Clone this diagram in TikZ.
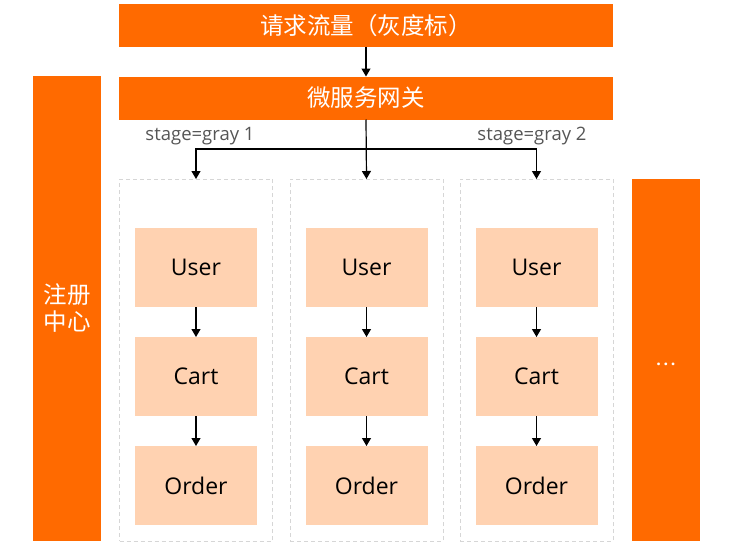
\documentclass[tikz,border=0pt]{standalone}
\usepackage{fontspec}
\setmainfont{Open Sans}
\newfontfamily\cjk{Noto Sans CJK SC}
\usetikzlibrary{positioning,arrows.meta}
\definecolor{aliorange}{HTML}{FF6A00}
\definecolor{peach}{HTML}{FFD2B1}
\definecolor{dashgray}{HTML}{D6D6D6}
\definecolor{labelgray}{HTML}{555555}
\tikzstyle{bar}=[fill=aliorange, text=white, inner sep=0pt, outer sep=0pt,
    minimum width=494pt, minimum height=43pt, font=\cjk\fontsize{23.5}{27}\selectfont]
\tikzstyle{column}=[bar, minimum width=68pt, align=center]
\tikzstyle{group}=[draw=dashgray, dash pattern=on 4pt off 3pt, line width=0.9pt,
    minimum width=153pt, minimum height=362pt, inner sep=0pt, outer sep=0pt]
\tikzstyle{svc}=[fill=peach, minimum width=122pt, minimum height=79pt, inner sep=0pt,
    outer sep=0pt, font=\fontsize{23}{26}\selectfont]
\tikzstyle{stage}=[text=labelgray, font=\fontsize{18.5}{20}\selectfont]
\tikzstyle{flow}=[-{Triangle[length=8pt,width=9pt]}, line width=1.2pt]

\begin{document}
\begin{tikzpicture}[x=1pt, y=-1pt]
	\useasboundingbox (0,0) rectangle (733,543);
	% Define the nodes in the picture
	\node (traffic) [bar] at (366,25.5) {请求流量（灰度标）};
	\node (gateway) [bar] at (366,98) {微服务网关};
	\node (registry) [column, minimum height=465pt] at (67,308.5) {注册\\中心};
	\node (more) [column, minimum height=362pt, font=\bfseries\fontsize{16}{20}\selectfont] at (666,360) {\raisebox{-5pt}[0pt][0pt]{.\,.\,.}};

	\node (grp1) [group] at (196,360) {};
	\node (grp2) [group] at (366.5,360) {};
	\node (grp3) [group] at (536.5,360) {};

	\node (user1) [svc, below=49pt of grp1.north] {User};
	\node (cart1) [svc, below=30pt of user1] {Cart};
	\node (order1) [svc, below=30pt of cart1] {Order};
	\node (user2) [svc, below=49pt of grp2.north] {User};
	\node (cart2) [svc, below=30pt of user2] {Cart};
	\node (order2) [svc, below=30pt of cart2] {Order};
	\node (user3) [svc, below=49pt of grp3.north] {User};
	\node (cart3) [svc, below=30pt of user3] {Cart};
	\node (order3) [svc, below=30pt of cart3] {Order};

	\coordinate (split) at (gateway.south |- 0,149);
	\node (gray1) [stage] at (200,136) {stage=gray 1};
	\node (gray2) [stage] at (532,136) {stage=gray 2};

	% Define the edges in the picture
	\draw [flow] (traffic) -- (gateway);
	\draw [flow] (gateway.south) -- (grp2.north);
	\draw [flow] (split) -| (grp1.north);
	\draw [flow] (split) -| (grp3.north);
	\draw [flow] (user1) -- (cart1);
	\draw [flow] (cart1) -- (order1);
	\draw [flow] (user2) -- (cart2);
	\draw [flow] (cart2) -- (order2);
	\draw [flow] (user3) -- (cart3);
	\draw [flow] (cart3) -- (order3);
\end{tikzpicture}
\end{document}
